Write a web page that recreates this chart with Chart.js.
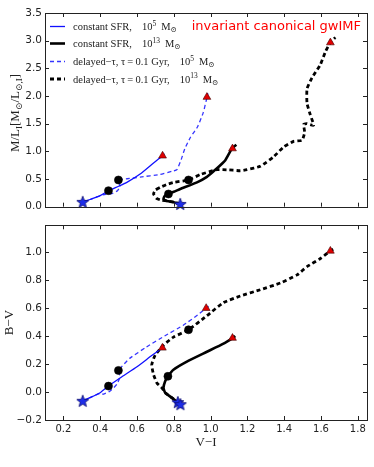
<!DOCTYPE html>
<html>
<head>
<meta charset="utf-8">
<script src="https://cdn.jsdelivr.net/npm/chart.js@4.4.0/dist/chart.umd.min.js"></script>
<style>
  html, body { margin: 0; padding: 0; background: #fff; }
  #wrap { position: relative; width: 374px; height: 467px; }
  canvas { position: absolute; left: 0; }
  #topChart { top: 0; width: 374px; height: 216px; }
  #botChart { top: 216px; width: 374px; height: 251px; }
</style>
</head>
<body>
<div id="wrap">
  <canvas id="topChart" width="374" height="216"></canvas>
  <canvas id="botChart" width="374" height="251"></canvas>
</div>
<script>
// tick labels
var xTicks = [0.2, 0.4, 0.6, 0.8, 1.0, 1.2, 1.4, 1.6, 1.8];
var mlTicks = [0.0, 0.5, 1.0, 1.5, 2.0, 2.5, 3.0, 3.5];
var bvTicks = [-0.2, 0.0, 0.2, 0.4, 0.6, 0.8, 1.0];

var legendLabels = ['constant SFR,', 'constant SFR,', 'delayed\u2212\u03c4, \u03c4\u2009=\u20090.1 Gyr,', 'delayed\u2212\u03c4, \u03c4\u2009=\u20090.1 Gyr,'];
var legendExp = ['5', '13', '5', '13'];

// top panel: V-I vs M/L_I
var viCst5Top = [0.305, 0.345, 0.40, 0.445, 0.50, 0.545, 0.617, 0.69, 0.739, 0.748];
var mlCst5 = [0.088, 0.13, 0.20, 0.29, 0.37, 0.44, 0.59, 0.79, 0.92, 0.96];
var viDel5Top = [0.305, 0.345, 0.40, 0.43, 0.463, 0.494, 0.508, 0.503, 0.499, 0.56, 0.617, 0.726, 0.79, 0.817, 0.84, 0.86, 0.89, 0.93, 0.96, 0.975, 0.985];
var mlDel5 = [0.088, 0.13, 0.20, 0.225, 0.235, 0.29, 0.36, 0.43, 0.483, 0.51, 0.536, 0.583, 0.64, 0.67, 0.85, 1.05, 1.25, 1.45, 1.7, 1.9, 2.05];
var viCst13Top = [0.835, 0.80, 0.762, 0.744, 0.75, 0.768, 0.80, 0.835, 0.926, 0.98, 1.016, 1.05, 1.08, 1.116, 1.14];
var mlCst13 = [0.05, 0.08, 0.105, 0.14, 0.19, 0.23, 0.27, 0.32, 0.44, 0.54, 0.64, 0.74, 0.84, 1.05, 1.12];
var viDel13Top = [0.835, 0.80, 0.762, 0.735, 0.708, 0.69, 0.70, 0.726, 0.76, 0.80, 0.88, 0.943, 1.034, 1.10, 1.161, 1.198, 1.27, 1.342, 1.397, 1.451, 1.497, 1.511, 1.506, 1.524, 1.56, 1.542, 1.524, 1.524, 1.551, 1.597, 1.624, 1.651, 1.678];
var mlDel13 = [0.05, 0.08, 0.105, 0.115, 0.145, 0.23, 0.30, 0.35, 0.40, 0.44, 0.483, 0.58, 0.67, 0.665, 0.65, 0.67, 0.73, 0.90, 1.08, 1.18, 1.20, 1.34, 1.49, 1.50, 1.47, 1.66, 1.87, 2.13, 2.33, 2.57, 2.80, 2.965, 3.06];

var starViTop = [0.305, 0.835];
var starMl = [0.088, 0.05];
var dotViTop = [0.445, 0.499, 0.771, 0.88];
var dotMl = [0.29, 0.483, 0.23, 0.483];
var triViTop = [0.739, 0.98, 1.119, 1.651];
var triMl = [0.92, 1.98, 1.05, 2.965];

// bottom panel: V-I vs B-V
var viCst5Bot = [0.305, 0.345, 0.40, 0.445, 0.52, 0.60, 0.68, 0.738, 0.748];
var bvCst5 = [-0.063, -0.04, -0.005, 0.042, 0.11, 0.18, 0.26, 0.315, 0.325];
var viDel5Bot = [0.305, 0.345, 0.40, 0.417, 0.454, 0.49, 0.508, 0.499, 0.526, 0.56, 0.65, 0.75, 0.85, 0.93, 0.976, 0.99];
var bvDel5 = [-0.063, -0.04, -0.01, -0.016, 0.007, 0.054, 0.11, 0.152, 0.194, 0.24, 0.32, 0.40, 0.475, 0.55, 0.598, 0.612];
var viCst13Bot = [0.831, 0.798, 0.753, 0.744, 0.753, 0.768, 0.798, 0.871, 0.98, 1.07, 1.119, 1.134];
var bvCst13 = [-0.082, -0.05, -0.005, 0.03, 0.077, 0.112, 0.159, 0.217, 0.287, 0.345, 0.385, 0.40];
var viDel13Bot = [0.831, 0.798, 0.753, 0.735, 0.708, 0.69, 0.68, 0.699, 0.744, 0.798, 0.88, 0.98, 1.07, 1.161, 1.27, 1.379, 1.47, 1.524, 1.597, 1.651, 1.678];
var bvDel13 = [-0.082, -0.05, -0.005, 0.03, 0.065, 0.124, 0.194, 0.264, 0.334, 0.392, 0.444, 0.545, 0.638, 0.685, 0.73, 0.778, 0.836, 0.895, 0.953, 1.007, 1.028];

var starViBot = [0.305, 0.822, 0.836];
var starBv = [-0.063, -0.072, -0.087];
var dotViBot = [0.445, 0.499, 0.768, 0.88];
var dotBv = [0.042, 0.154, 0.112, 0.444];
var triViBot = [0.738, 0.976, 1.119, 1.651];
var triBv = [0.315, 0.598, 0.385, 1.007];

var BLUE = '#1010ff';
var BLUE_D = '#3535ff';
var SERIF = '"Liberation Serif", "DejaVu Serif", serif';

function pts(xs, ys) {
    return xs.map(function(x, i) { return {x: x, y: ys[i]}; });
}

function fmt(v) {
    return (v < 0 ? '\u2212' : '') + Math.abs(v).toFixed(1);
}

function starImage() {
    var c = document.createElement('canvas');
    c.width = 14; c.height = 14;
    var g = c.getContext('2d');
    g.beginPath();
    for (var i = 0; i < 10; i++) {
        var r = i % 2 ? 2.7 : 6.3;
        var a = -Math.PI / 2 + i * Math.PI / 5;
        g.lineTo(7 + r * Math.cos(a), 7.6 + r * Math.sin(a));
    }
    g.closePath();
    g.fillStyle = '#1c2ce8';
    g.fill();
    g.strokeStyle = '#0a0a70';
    g.lineWidth = 0.8;
    g.stroke();
    return c;
}
var STAR = starImage();

function lineDs(data, color, width, dash) {
    return {data: data, showLine: true, borderColor: color, borderWidth: width,
            borderDash: dash || [], pointRadius: 0, pointHoverRadius: 0,
            tension: 0.15, fill: false, order: 2, clip: false};
}
function markDs(data, style, fill, edge, r) {
    return {data: data, showLine: false, pointStyle: style, pointRadius: r,
            backgroundColor: fill, borderColor: edge, borderWidth: 0.6,
            order: 1, clip: false};
}

function drawRich(ctx, parts, x, y) {
    parts.forEach(function(p) {
        ctx.font = p.s + 'px ' + SERIF;
        ctx.fillText(p.t, x + (p.dx || 0), y + (p.dy || 0));
        x += (p.dx || 0) + ctx.measureText(p.t).width;
    });
    return x;
}
function richWidth(ctx, parts) {
    var w = 0;
    parts.forEach(function(p) {
        ctx.font = p.s + 'px ' + SERIF;
        w += (p.dx || 0) + ctx.measureText(p.t).width;
    });
    return w;
}

// inward ticks on four sides, plus frame
var frameTicks = {
    id: 'frameTicks',
    afterDraw: function(chart) {
        var a = chart.chartArea, ctx = chart.ctx;
        var sx = chart.scales.x, sy = chart.scales.y;
        ctx.save();
        ctx.strokeStyle = '#222';
        ctx.lineWidth = 1;
        ctx.beginPath();
        sx.ticks.forEach(function(t) {
            var p = Math.round(sx.getPixelForValue(t.value)) + 0.5;
            ctx.moveTo(p, a.bottom); ctx.lineTo(p, a.bottom - 4);
            ctx.moveTo(p, a.top); ctx.lineTo(p, a.top + 4);
        });
        sy.ticks.forEach(function(t) {
            var p = Math.round(sy.getPixelForValue(t.value)) + 0.5;
            ctx.moveTo(a.left, p); ctx.lineTo(a.left + 4, p);
            ctx.moveTo(a.right, p); ctx.lineTo(a.right - 4, p);
        });
        ctx.stroke();
        ctx.strokeRect(Math.round(a.left) + 0.5, Math.round(a.top) + 0.5,
                       Math.round(a.right - a.left), Math.round(a.bottom - a.top));
        ctx.restore();
    }
};

// legend, red label and mixed-size y title for the top panel
var topDecor = {
    id: 'topDecor',
    afterDraw: function(chart) {
        var ctx = chart.ctx;
        ctx.save();
        var styles = [
            {c: BLUE, w: 1.3, d: []},
            {c: '#000', w: 2.6, d: []},
            {c: BLUE_D, w: 1.3, d: [4, 3]},
            {c: '#000', w: 2.8, d: [4, 3]}
        ];
        var rowY = [26.5, 43.5, 61.5, 79];
        for (var i = 0; i < 4; i++) {
            var y = rowY[i];
            ctx.beginPath();
            ctx.strokeStyle = styles[i].c;
            ctx.lineWidth = styles[i].w;
            ctx.setLineDash(styles[i].d);
            ctx.moveTo(50, y); ctx.lineTo(65, y);
            ctx.stroke();
            ctx.setLineDash([]);
            ctx.fillStyle = '#222';
            ctx.textBaseline = 'alphabetic';
            ctx.textAlign = 'left';
            drawRich(ctx, [
                {t: legendLabels[i], s: 10.5},
                {t: '10', s: 10.5, dx: 10},
                {t: legendExp[i], s: 7.5, dy: -4.5},
                {t: 'M', s: 10.5, dx: 5},
                {t: '\u2299', s: 7.5, dy: 2}
            ], 73, y + 3.5);
        }

        ctx.fillStyle = '#ff0000';
        ctx.font = '13px "DejaVu Sans", sans-serif';
        ctx.textAlign = 'right';
        ctx.textBaseline = 'middle';
        ctx.fillText('invariant canonical gwIMF', 361, 27);

        var title = [
            {t: 'M/L', s: 13}, {t: 'I', s: 9, dy: 3},
            {t: '[M', s: 13}, {t: '\u2299', s: 9, dy: 3},
            {t: '/L', s: 13}, {t: '\u2299,I', s: 9, dy: 3},
            {t: ']', s: 13}
        ];
        ctx.translate(15, 113);
        ctx.rotate(-Math.PI / 2);
        ctx.textAlign = 'left';
        ctx.textBaseline = 'alphabetic';
        ctx.fillStyle = '#222';
        drawRich(ctx, title, -richWidth(ctx, title) / 2, 4);
        ctx.restore();
    }
};

function baseScales(yMin, yMax, yTicks, showX) {
    return {
        x: {
            type: 'linear', min: 0.1, max: 1.85,
            afterBuildTicks: function(s) { s.ticks = xTicks.map(function(v) { return {value: v}; }); },
            grid: {display: false, drawTicks: false}, border: {display: false},
            ticks: {display: showX, padding: 3, color: '#222',
                    font: {family: '"DejaVu Sans", sans-serif', size: 10}, callback: fmt},
            title: {display: showX, text: 'V\u2212I', color: '#222',
                    font: {family: SERIF, size: 13}, padding: {top: 0, bottom: 17}},
            afterFit: function(s) { s.height = showX ? 47 : 3; }
        },
        y: {
            type: 'linear', min: yMin, max: yMax,
            afterBuildTicks: function(s) { s.ticks = yTicks.map(function(v) { return {value: v}; }); },
            grid: {display: false, drawTicks: false}, border: {display: false},
            ticks: {padding: 3, color: '#222',
                    font: {family: '"DejaVu Sans", sans-serif', size: 10.5}, callback: fmt},
            title: {display: showX, text: 'B\u2212V', color: '#222',
                    font: {family: SERIF, size: 13}, padding: {top: 2, bottom: 0}},
            afterFit: function(s) { s.width = 45; }
        }
    };
}

var common = {
    responsive: false,
    animation: false,
    events: [],
    plugins: {legend: {display: false}, tooltip: {enabled: false}}
};

new Chart(document.getElementById('topChart').getContext('2d'), {
    type: 'scatter',
    data: {
        datasets: [
            markDs(pts(starViTop, starMl), STAR, BLUE, BLUE, 6),
            markDs(pts(dotViTop, dotMl), 'circle', '#000', '#000', 4),
            markDs(pts(triViTop, triMl), 'triangle', '#e00000', '#400000', 4.5),
            lineDs(pts(viCst5Top, mlCst5), BLUE, 1.3),
            lineDs(pts(viDel5Top, mlDel5), BLUE_D, 1.3, [4, 3]),
            lineDs(pts(viCst13Top, mlCst13), '#000', 2.6),
            lineDs(pts(viDel13Top, mlDel13), '#000', 2.8, [4, 3])
        ]
    },
    options: Object.assign({}, common, {
        layout: {padding: {top: 13, right: 7, left: 0, bottom: 0}},
        scales: baseScales(0, 3.5, mlTicks, false)
    }),
    plugins: [frameTicks, topDecor]
});

new Chart(document.getElementById('botChart').getContext('2d'), {
    type: 'scatter',
    data: {
        datasets: [
            markDs(pts(starViBot, starBv), STAR, BLUE, BLUE, 6),
            markDs(pts(dotViBot, dotBv), 'circle', '#000', '#000', 4),
            markDs(pts(triViBot, triBv), 'triangle', '#e00000', '#400000', 4.5),
            lineDs(pts(viCst5Bot, bvCst5), BLUE, 1.3),
            lineDs(pts(viDel5Bot, bvDel5), BLUE_D, 1.3, [4, 3]),
            lineDs(pts(viCst13Bot, bvCst13), '#000', 2.6),
            lineDs(pts(viDel13Bot, bvDel13), '#000', 2.8, [4, 3])
        ]
    },
    options: Object.assign({}, common, {
        layout: {padding: {top: 5, right: 7, left: 0, bottom: 0}},
        scales: baseScales(-0.2, 1.19, bvTicks, true)
    }),
    plugins: [frameTicks]
});
</script>
</body>
</html>
